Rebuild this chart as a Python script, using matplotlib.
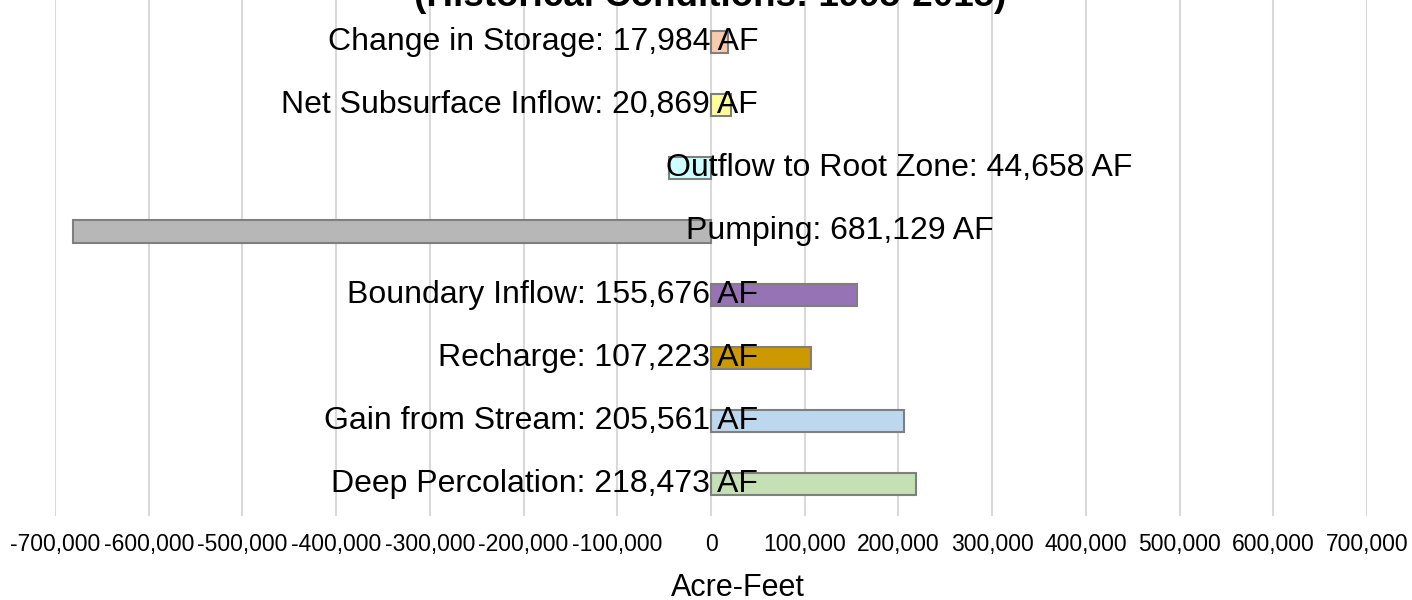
import matplotlib.pyplot as plt
from matplotlib.ticker import FuncFormatter

# categories bottom -> top
categories = ["Deep Percolation", "Gain from Stream", "Recharge", "Boundary Inflow",
              "Pumping", "Outflow to Root Zone", "Net Subsurface Inflow", "Change in Storage"]
values = [218473, 205561, 107223, 155676, -681129, -44658, 20869, 17984]
colors = ["#C5E0B4", "#BDD7EE", "#CC9900", "#9673B4",
          "#B7B7B7", "#CCFFFF", "#FFFF99", "#F8CBAD"]
ticks = list(range(-700000, 700001, 100000))

plt.rcParams['font.family'] = ['Liberation Sans', 'DejaVu Sans']

fig = plt.figure(figsize=(14.12, 6), dpi=100)
ax = fig.add_axes([55 / 1412, 84 / 600, (1367 - 55) / 1412, 516 / 600])

ypos = list(range(len(categories)))
ax.barh(ypos, values, height=0.35, color=colors, edgecolor="#7F7F7F", linewidth=1.5, zorder=3)

# data labels
for y, name, v in zip(ypos, categories, values):
    txt = f"{name}: {abs(v):,} AF"
    if v >= 0:
        ax.annotate(txt, xy=(0, y), xytext=(34, 0), textcoords="offset points",
                    ha="right", va="center", fontsize=23, zorder=4)
    elif name == "Pumping":
        ax.annotate(txt, xy=(0, y), xytext=(-18, 0), textcoords="offset points",
                    ha="left", va="center", fontsize=23, zorder=4)
    else:
        ax.annotate(txt, xy=(v, y), xytext=(-2, 0), textcoords="offset points",
                    ha="left", va="center", fontsize=23, zorder=4)

ax.set_xlim(-700000, 700000)
ax.set_ylim(-0.5, 7.66)
ax.set_xticks(ticks)
ax.xaxis.set_major_formatter(FuncFormatter(lambda x, p: f"{int(x):,}"))
ax.tick_params(axis="x", length=0, labelsize=16.5, pad=12)
ax.set_yticks([])
ax.grid(axis="x", color="#D9D9D9", linewidth=1.5, zorder=0)
for s in ax.spines.values():
    s.set_visible(False)

fig.text(738 / 1412, 1 - 596 / 600, "Acre-Feet", ha="center", va="baseline", fontsize=22)
fig.text(0.503, 1 - 6 / 600, "(Historical Conditions: 1995-2015)", ha="center",
         va="baseline", fontsize=26.5, fontweight="bold")

fig.savefig("out.png", dpi=100)
